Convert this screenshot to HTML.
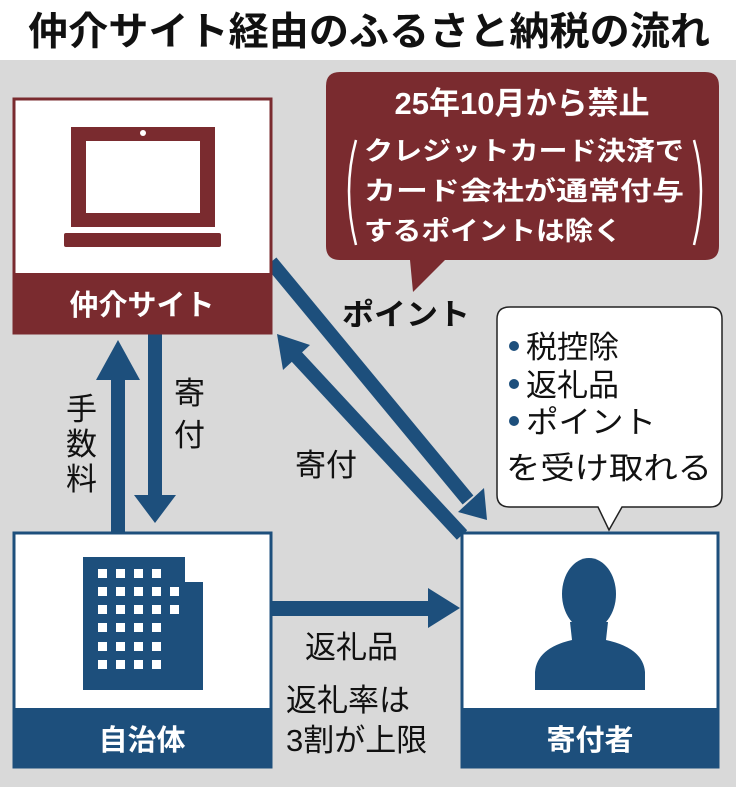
<!DOCTYPE html>
<html><head><meta charset="utf-8"><style>
html,body{margin:0;padding:0;background:#fff}
svg{display:block}
text{font-family:"Liberation Sans","Noto Sans CJK JP",sans-serif}
</style></head><body>
<svg width="736" height="787" viewBox="0 0 736 787" xmlns="http://www.w3.org/2000/svg">
<rect x="0" y="0" width="736" height="60" fill="#fff"/>
<text x="28" y="45" font-size="39" font-weight="bold" textLength="682" lengthAdjust="spacingAndGlyphs" fill="#111">仲介サイト経由のふるさと納税の流れ</text>
<rect x="0" y="60" width="736" height="727" fill="#d9d9d9"/>

<g fill="#1d4f7c" stroke="none">
  <rect x="111" y="375" width="14" height="160"/>
  <polygon points="118,340 96,380 140,380"/>
  <rect x="148" y="333" width="14" height="170"/>
  <polygon points="155,523 134,495 176,495"/>
  <rect x="271" y="601" width="160" height="15"/>
  <polygon points="460,608 428,588 428,628"/>
</g>
<g stroke="#1d4f7c" stroke-width="14" fill="none">
  <line x1="271" y1="262" x2="468" y2="500"/>
  <line x1="462" y1="535" x2="295" y2="355"/>
</g>
<g fill="#1d4f7c">
  <polygon points="487,520 458,512 484,488"/>
  <polygon points="277,334 283,370 310,345"/>
</g>

<rect x="14" y="99" width="257" height="234" fill="#fff"/>
<rect x="14" y="99" width="257" height="234" fill="none" stroke="#7a2b2f" stroke-width="3"/>
<rect x="14" y="273" width="257" height="60" fill="#7a2b2f"/>
<text x="142" y="315" font-size="29" font-weight="bold" fill="#fff" text-anchor="middle">仲介サイト</text>
<rect x="71" y="127" width="144" height="100" fill="#7a2b2f"/>
<rect x="86" y="141" width="114" height="72" fill="#fff"/>
<circle cx="143" cy="133" r="3" fill="#fff"/>
<rect x="64" y="233" width="157" height="14" rx="2" fill="#7a2b2f"/>

<path d="M340,72 H705 Q719,72 719,86 V246 Q719,260 705,260 H445 L413,292 L410,260 H340 Q326,260 326,246 V86 Q326,72 340,72 Z" fill="#7a2b2f"/>
<text x="522" y="114" font-size="31" font-weight="bold" fill="#fff" text-anchor="middle">25年10月から禁止</text>
<text x="524" y="160" font-size="26" font-weight="bold" fill="#fff" text-anchor="middle" textLength="320" lengthAdjust="spacingAndGlyphs">クレジットカード決済で</text>
<text x="524" y="200" font-size="26" font-weight="bold" fill="#fff" text-anchor="middle" textLength="320" lengthAdjust="spacingAndGlyphs">カード会社が通常付与</text>
<text x="364" y="240" font-size="26" font-weight="bold" fill="#fff" textLength="258" lengthAdjust="spacingAndGlyphs">するポイントは除く</text>
<path d="M356,140 Q342,190 356,245" stroke="#fff" stroke-width="2.5" fill="none"/>
<path d="M694,140 Q708,190 694,245" stroke="#fff" stroke-width="2.5" fill="none"/>

<text x="342" y="325" font-size="30" font-weight="bold" fill="#111" textLength="128" lengthAdjust="spacingAndGlyphs">ポイント</text>

<path d="M510,307 H710 Q722,307 722,319 V495 Q722,507 710,507 H622 L609,530 L598,507 H510 Q497,507 497,495 V319 Q497,307 510,307 Z" fill="#fff" stroke="#222" stroke-width="1.5"/>
<g font-size="31" fill="#111">
<circle cx="514" cy="346" r="5" fill="#1d4f7c"/>
<text x="526" y="358">税控除</text>
<circle cx="514" cy="384" r="5" fill="#1d4f7c"/>
<text x="526" y="396">返礼品</text>
<circle cx="514" cy="421" r="5" fill="#1d4f7c"/>
<text x="526" y="433" textLength="130" lengthAdjust="spacingAndGlyphs">ポイント</text>
<text x="506" y="479" textLength="206" lengthAdjust="spacingAndGlyphs">を受け取れる</text>
</g>

<g font-size="31" fill="#111">
<text x="66" y="420">手</text>
<text x="66" y="455">数</text>
<text x="66" y="490">料</text>
<text x="174" y="404">寄</text>
<text x="174" y="446">付</text>
<text x="295" y="476">寄付</text>
<text x="305" y="658">返礼品</text>
<text x="286" y="711">返礼率は</text>
<text x="286" y="751">3割が上限</text>
</g>

<rect x="14" y="533" width="257" height="234" fill="#fff" stroke="#1d4f7c" stroke-width="3"/>
<rect x="14" y="708" width="257" height="59" fill="#1d4f7c"/>
<text x="142" y="750" font-size="29" font-weight="bold" fill="#fff" text-anchor="middle">自治体</text>
<polygon points="83,557 185,557 185,582 203,582 203,690 83,690" fill="#1d4f7c"/>
<g fill="#fff">
<rect x="98" y="569" width="9" height="9"/><rect x="116" y="569" width="9" height="9"/><rect x="134" y="569" width="9" height="9"/><rect x="152" y="569" width="9" height="9"/>
<rect x="98" y="587" width="9" height="9"/><rect x="116" y="587" width="9" height="9"/><rect x="134" y="587" width="9" height="9"/><rect x="152" y="587" width="9" height="9"/><rect x="170" y="587" width="9" height="9"/>
<rect x="98" y="605" width="9" height="9"/><rect x="116" y="605" width="9" height="9"/><rect x="134" y="605" width="9" height="9"/><rect x="152" y="605" width="9" height="9"/><rect x="170" y="605" width="9" height="9"/>
<rect x="98" y="623" width="9" height="9"/><rect x="116" y="623" width="9" height="9"/><rect x="134" y="623" width="9" height="9"/><rect x="152" y="623" width="9" height="9"/>
<rect x="98" y="642" width="9" height="9"/><rect x="116" y="642" width="9" height="9"/><rect x="134" y="642" width="9" height="9"/><rect x="152" y="642" width="9" height="9"/>
<rect x="98" y="660" width="9" height="9"/><rect x="116" y="660" width="9" height="9"/><rect x="134" y="660" width="9" height="9"/><rect x="152" y="660" width="9" height="9"/>
</g>

<rect x="462" y="533" width="256" height="234" fill="#fff" stroke="#1d4f7c" stroke-width="3"/>
<rect x="462" y="708" width="256" height="59" fill="#1d4f7c"/>
<text x="590" y="750" font-size="29" font-weight="bold" fill="#fff" text-anchor="middle">寄付者</text>
<ellipse cx="589" cy="594" rx="27" ry="36" fill="#1d4f7c"/>
<path d="M570,622 L572,640 Q537,648 535,672 L535,690 H645 L645,672 Q643,648 606,640 L608,622 Z" fill="#1d4f7c"/>
</svg>
</body></html>
